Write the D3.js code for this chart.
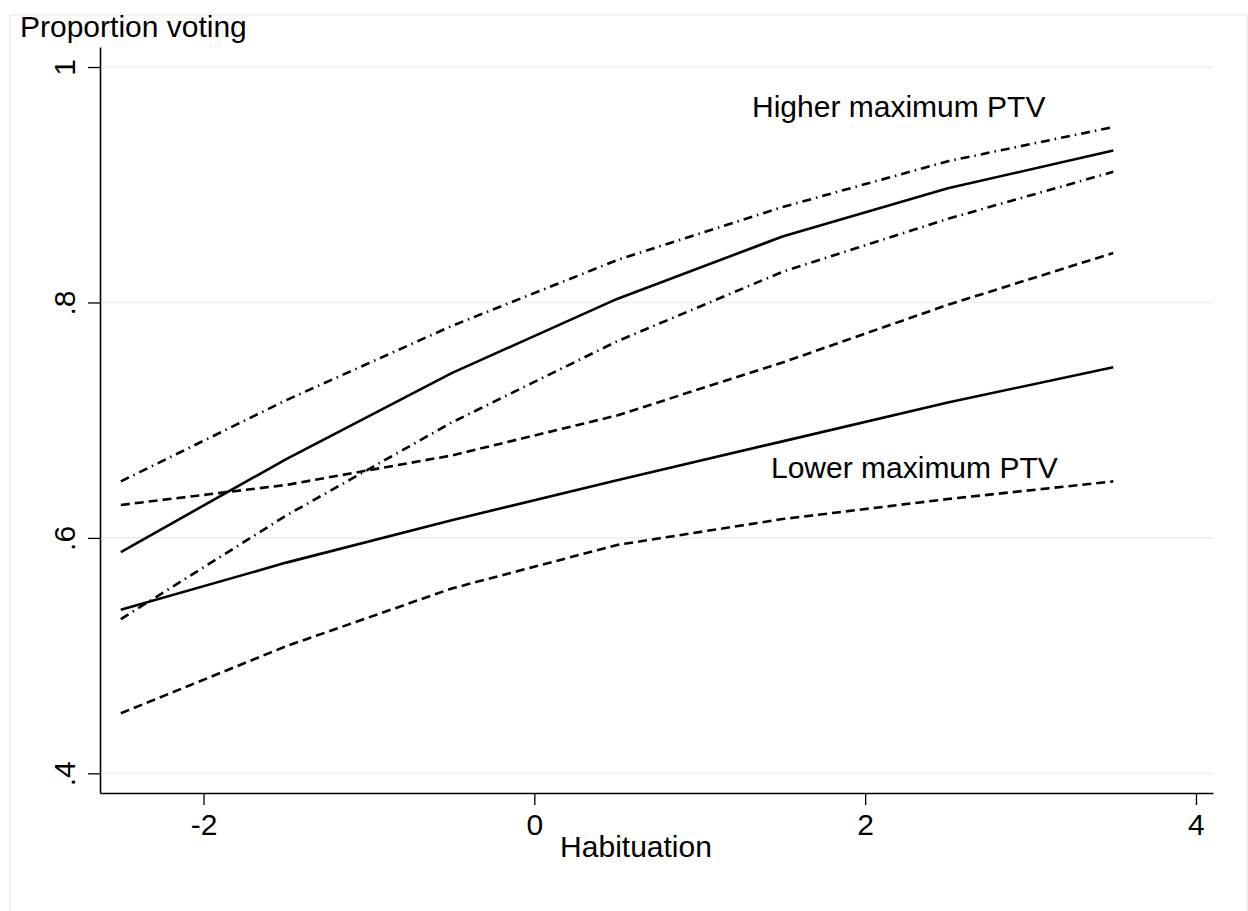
<!DOCTYPE html>
<html>
<head>
<meta charset="utf-8">
<script src="https://cdn.jsdelivr.net/npm/d3@7"></script>
<style>
  body { margin: 0; background: #fff; }
  text { font-family: "Liberation Sans", Arial, Helvetica, sans-serif; fill: #000; }
</style>
</head>
<body>
<div id="chart"></div>
<script>
// data
const habituation = [-2.5, -1.5, -0.5, 0.5, 1.5, 2.5, 3.5];
const higherFit   = [0.588, 0.667, 0.740, 0.803, 0.856, 0.897, 0.929];
const higherUpper = [0.648, 0.717, 0.780, 0.836, 0.881, 0.920, 0.949];
const higherLower = [0.531, 0.619, 0.698, 0.767, 0.826, 0.871, 0.911];
const lowerFit    = [0.539, 0.579, 0.615, 0.649, 0.682, 0.715, 0.745];
const lowerUpper  = [0.628, 0.645, 0.670, 0.704, 0.749, 0.798, 0.842];
const lowerLower  = [0.451, 0.508, 0.557, 0.594, 0.616, 0.633, 0.648];
const xTicks = [-2, 0, 2, 4];
const yTicks = [0.4, 0.6, 0.8, 1];
const yTickLabels = [".4", ".6", ".8", "1"];

const width = 1248,
  height = 911;
const fontSize = 30;

const svg = d3.select("#chart")
  .append("svg")
  .attr("width", width)
  .attr("height", height);

// faint outer frame of the graph region
svg.append("rect")
  .attr("x", 10)
  .attr("y", 15)
  .attr("width", 1237)
  .attr("height", 905)
  .attr("fill", "none")
  .attr("stroke", "#e8f0f0")
  .attr("stroke-width", 1.5);

const x = d3.scaleLinear().domain([-2.626, 4.103]).range([100, 1213]);
const y = d3.scaleLinear().domain([0.3833, 1.017]).range([793, 47]);

// grid lines
svg.append("g")
  .selectAll("line")
  .data(yTicks)
  .join("line")
  .attr("x1", 100)
  .attr("x2", 1213)
  .attr("y1", d => y(d))
  .attr("y2", d => y(d))
  .attr("stroke", "#e9f1f1")
  .attr("stroke-width", 1.6);

// x axis
const xAxis = svg.append("g")
  .attr("transform", `translate(0,${y.range()[0]})`)
  .call(d3.axisBottom(x).tickValues(xTicks).tickSize(12).tickSizeOuter(0));
xAxis.select(".domain").attr("stroke-width", 1.6);
xAxis.selectAll(".tick line").attr("stroke-width", 1.3);
xAxis.selectAll(".tick text")
  .attr("font-size", fontSize)
  .attr("dy", 0)
  .attr("y", 42)
  .text(d => d < 0 ? "-" + Math.abs(d) : d);

// y axis
const yAxis = svg.append("g")
  .attr("transform", `translate(${x.range()[0]},0)`)
  .call(d3.axisLeft(y).tickValues(yTicks).tickSize(12).tickSizeOuter(0).tickFormat((d, i) => yTickLabels[i]));
yAxis.select(".domain").attr("stroke-width", 1.6);
yAxis.selectAll(".tick line").attr("stroke-width", 1.3);
yAxis.selectAll(".tick text")
  .attr("font-size", fontSize)
  .attr("x", null)
  .attr("dy", null)
  .attr("text-anchor", "middle")
  .attr("transform", "translate(-25,0) rotate(-90)");

svg.append("text")
  .attr("x", 20)
  .attr("y", 37)
  .attr("font-size", fontSize)
  .text("Proportion voting");

svg.append("text")
  .attr("x", 636)
  .attr("y", 857)
  .attr("text-anchor", "middle")
  .attr("font-size", fontSize)
  .text("Habituation");

// the six lines
const lines = [
  { values: higherUpper, dash: "9,5,1.5,5", w: 2.6 },
  { values: higherFit, dash: null, w: 2.6 },
  { values: higherLower, dash: "9,5,1.5,5", w: 2.6 },
  { values: lowerUpper, dash: "9,5", w: 2.6 },
  { values: lowerFit, dash: null, w: 2.6 },
  { values: lowerLower, dash: "9,5", w: 2.6 }
];

const line = d3.line()
  .x((d, i) => x(habituation[i]))
  .y(d => y(d));

svg.append("g")
  .selectAll("path")
  .data(lines)
  .join("path")
  .attr("fill", "none")
  .attr("stroke", "#000")
  .attr("stroke-width", d => d.w)
  .attr("stroke-dasharray", d => d.dash)
  .attr("d", d => line(d.values));

svg.append("text")
  .attr("x", 752)
  .attr("y", 117)
  .attr("font-size", fontSize)
  .text("Higher maximum PTV");

svg.append("text")
  .attr("x", 771)
  .attr("y", 478)
  .attr("font-size", fontSize)
  .text("Lower maximum PTV");
</script>
</body>
</html>
